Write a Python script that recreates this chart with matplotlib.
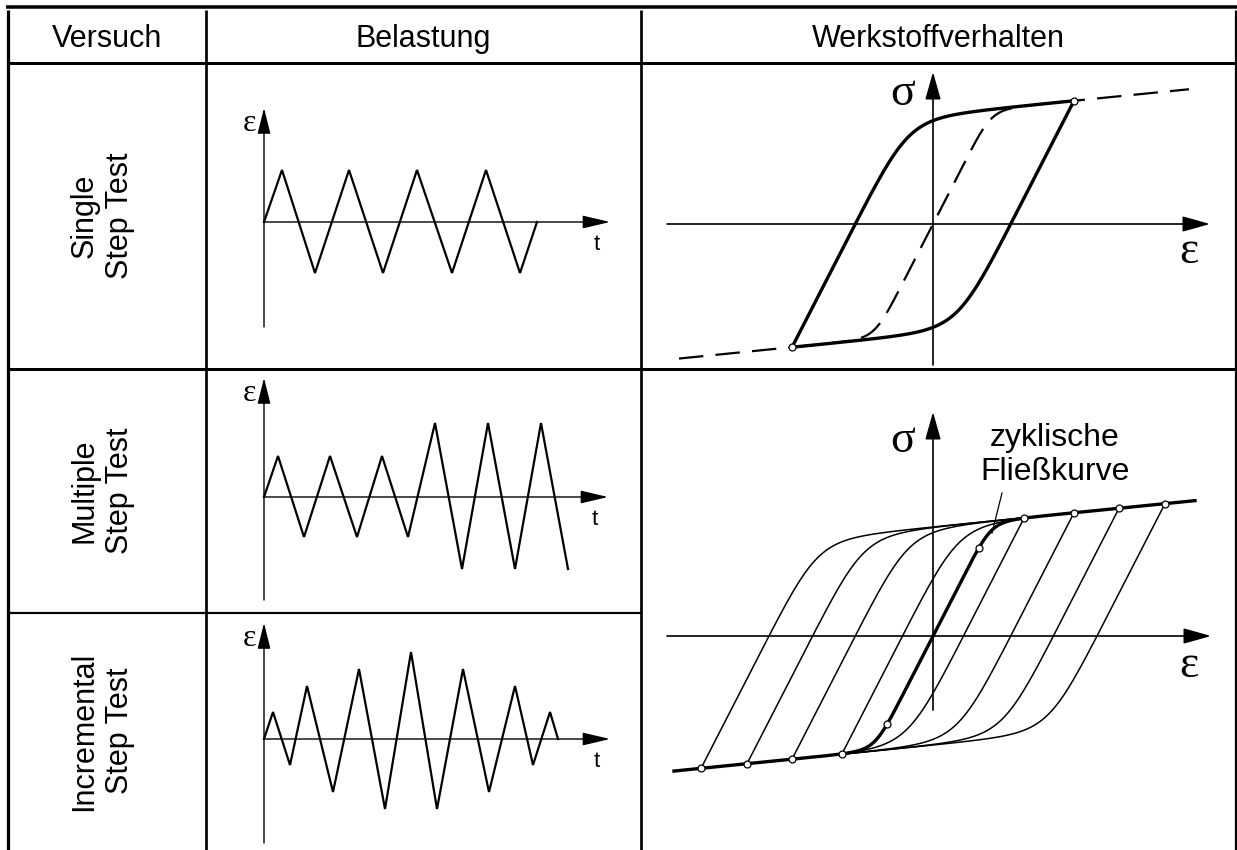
import matplotlib

matplotlib.use("Agg")
import matplotlib.pyplot as plt
import numpy as np

W, H, DPI = 1237, 850, 100
PT = 72.0 / DPI  # points per pixel

SANS = "Liberation Sans"
SERIF = "Liberation Serif"

# --- table layout (pixels) ---
COL_EDGES = [7.5, 206, 641, 1235.5]
TOP_Y = 6.5
HEADER_Y = 63
ROW1_Y = 369
ROW2_Y = 613
HEADERS = ["Versuch", "Belastung", "Werkstoffverhalten"]
ROW_LABELS = ["Single\nStep Test", "Multiple\nStep Test", "Incremental\nStep Test"]
ROW_LABEL_Y = [216, 491, 731]

# --- strain-time histories (t and eps in arbitrary units) ---
single_t = [0, 1.8, 5.1, 8.5, 11.9, 15.3, 18.8, 22.2, 25.6, 27.3]
single_eps = [0, 5.2, -5.1, 5.2, -5.1, 5.2, -5.1, 5.2, -5.1, 0]

multiple_t = [0, 1.4, 4.0, 6.6, 9.3, 11.8, 14.4, 17.1, 19.8, 22.4, 25.1, 27.7, 30.4]
multiple_eps = [0, 4.1, -4.0, 4.1, -4.0, 4.1, -4.0, 7.4, -7.2, 7.4, -7.2, 7.4, -7.2]

incremental_t = [0, 0.9, 2.6, 4.3, 6.9, 9.5, 12.1, 14.7, 17.3, 19.9, 22.5, 25.1, 26.9, 28.6, 29.4]
incremental_eps = [0, 2.7, -2.6, 5.3, -5.3, 7.0, -7.0, 8.7, -7.0, 7.0, -5.3, 5.3, -2.6, 2.7, 0]

# origin pixel and axis extents (t_end, eps_min, eps_max) of each loading sketch
load_origins = [(264, 222), (264, 497), (264, 739)]
load_extents = [(34.6, -10.5, 11.4), (34.4, -10.3, 11.9), (34.6, -10.4, 11.6)]

# --- cyclic stress-strain behaviour (eps, sigma in arbitrary units) ---
ELASTIC = 1.95       # slope of the elastic part
HARDENING = 0.10     # slope after yielding
KNEE_STRAIN = 59.0
KNEE_SHARPNESS = 8.0

single_amp = 141                       # amplitude of the single step loop
single_dashed_range = (-254, 256)      # cyclic curve drawn dashed
step_amps = [91, 141, 186, 232]        # loops of the multiple/incremental test
curve_points = [46, 91, 141, 186, 232] # marked points on the cyclic curve
bold_range = (-259, 262)

behaviour_origins = [(933, 224), (933, 636)]
behaviour_extents = [(-266, 277, -141, 152), (-266, 278, -74, 224)]


def cyclic_stress(eps):
    x = np.asarray(eps, dtype=float) / KNEE_STRAIN
    knee = x / (1.0 + np.abs(x) ** KNEE_SHARPNESS) ** (1.0 / KNEE_SHARPNESS)
    return HARDENING * x * KNEE_STRAIN + (ELASTIC - HARDENING) * KNEE_STRAIN * knee


def hysteresis_loop(amp, n=300):
    """Closed Masing loop between +amp and -amp."""
    sig = cyclic_stress(amp)
    e_up = np.linspace(-amp, amp, n)
    s_up = -sig + 2 * cyclic_stress((e_up + amp) / 2)
    e_dn = e_up[::-1]
    s_dn = sig - 2 * cyclic_stress((amp - e_dn) / 2)
    return np.concatenate([e_up, e_dn]), np.concatenate([s_up, s_dn])


def place_axes(fig, origin, scale, xlim, ylim):
    ox, oy = origin
    sx, sy = scale
    left = ox + xlim[0] * sx
    right = ox + xlim[1] * sx
    top = oy - ylim[1] * sy
    bottom = oy - ylim[0] * sy
    ax = fig.add_axes([left / W, 1 - bottom / H, (right - left) / W, (bottom - top) / H])
    ax.set_xlim(*xlim)
    ax.set_ylim(*ylim)
    ax.set_axis_off()
    return ax


def axis_arrow(ax, start, end, lw, head_length, head_width):
    style = f"-|>,head_length={head_length},head_width={head_width}"
    ax.annotate("", xy=end, xytext=start, annotation_clip=False,
                arrowprops=dict(arrowstyle=style, lw=lw, color="black",
                                shrinkA=0, shrinkB=0, mutation_scale=20))


def label(ax, text, at, offset, size, family):
    ax.annotate(text, xy=at, xytext=offset, textcoords="offset pixels",
                ha="center", va="baseline", fontsize=size, family=family,
                annotation_clip=False)


fig = plt.figure(figsize=(W / DPI, H / DPI), dpi=DPI)

# --- table grid ---
grid = fig.add_axes([0, 0, 1, 1])
grid.set_xlim(0, W)
grid.set_ylim(H, 0)
grid.set_axis_off()
grid.plot([6, W], [TOP_Y, TOP_Y], color="black", lw=3.5 * PT, solid_capstyle="butt")
for x in (COL_EDGES[0], COL_EDGES[-1]):
    grid.plot([x, x], [10, H], color="black", lw=3.2 * PT, solid_capstyle="butt")
for x in COL_EDGES[1:-1]:
    grid.plot([x, x], [10, H], color="black", lw=2.7 * PT, solid_capstyle="butt")
for y in (HEADER_Y, ROW1_Y):
    grid.plot([COL_EDGES[0], COL_EDGES[-1]], [y, y], color="black", lw=3.0 * PT,
              solid_capstyle="butt")
grid.plot([COL_EDGES[0], COL_EDGES[2]], [ROW2_Y, ROW2_Y], color="black", lw=2.2 * PT,
          solid_capstyle="butt")

for i, head in enumerate(HEADERS):
    xc = (COL_EDGES[i] + COL_EDGES[i + 1]) / 2
    grid.text(xc, 47, head, ha="center", va="baseline", fontsize=22, family=SANS)

for text, yc in zip(ROW_LABELS, ROW_LABEL_Y):
    grid.text(102, yc, text, ha="center", va="center", rotation=90, fontsize=22,
              family=SANS, multialignment="center", linespacing=1.22)

# --- loading sketches (strain over time) ---
histories = [(single_t, single_eps), (multiple_t, multiple_eps),
             (incremental_t, incremental_eps)]
for (t, eps), origin, (t_end, e_min, e_max) in zip(histories, load_origins, load_extents):
    ax = place_axes(fig, origin, (10, 10), (0, t_end), (e_min, e_max))
    axis_arrow(ax, (0, e_min), (0, e_max), 1.0, 0.8, 0.2)
    axis_arrow(ax, (0, 0), (t_end, 0), 1.0, 0.85, 0.2)
    ax.plot(t, eps, color="black", lw=1.6, clip_on=False, solid_joinstyle="miter")
    label(ax, "ε", (0, e_max), (-14, -23), 23, SERIF)
    label(ax, "t", (t_end, 0), (-13, -28), 16, SANS)

# --- material behaviour: single step test ---
e0, e1, s0, s1 = behaviour_extents[0]
ax = place_axes(fig, behaviour_origins[0], (1, 1), (e0, e1), (s0, s1))
axis_arrow(ax, (0, s0), (0, s1), 1.2, 0.85, 0.24)
axis_arrow(ax, (e0, 0), (e1, 0), 1.2, 0.85, 0.24)
e_cyc = np.linspace(*single_dashed_range, 400)
ax.plot(e_cyc, cyclic_stress(e_cyc), color="black", lw=1.6, dashes=(11, 5.5),
        clip_on=False, zorder=2)
le, ls = hysteresis_loop(single_amp)
ax.plot(le, ls, color="black", lw=2.4, clip_on=False, zorder=3)
tip = cyclic_stress(single_amp)
ax.plot([single_amp, -single_amp], [tip, -tip], "o", ms=5, mfc="white", mec="black",
        mew=0.9, clip_on=False, zorder=4)
label(ax, "σ", (0, s1), (-30, -33), 33, SERIF)
label(ax, "ε", (e1, 0), (-21, -39), 33, SERIF)

# --- material behaviour: multiple / incremental step test ---
e0, e1, s0, s1 = behaviour_extents[1]
ax = place_axes(fig, behaviour_origins[1], (1, 1), (e0, e1), (s0, s1))
axis_arrow(ax, (0, s0), (0, s1), 1.2, 0.85, 0.24)
axis_arrow(ax, (e0, 0), (e1, 0), 1.2, 0.85, 0.24)
for amp in step_amps:
    le, ls = hysteresis_loop(amp)
    ax.plot(le, ls, color="black", lw=1.1, clip_on=False, zorder=2)
e_cyc = np.linspace(*bold_range, 400)
ax.plot(e_cyc, cyclic_stress(e_cyc), color="black", lw=2.4, clip_on=False, zorder=3)
pts = np.array(curve_points, dtype=float)
ax.plot(np.concatenate([pts, -pts]), np.concatenate([cyclic_stress(pts), -cyclic_stress(pts)]),
        "o", ms=5, mfc="white", mec="black", mew=0.9, clip_on=False, zorder=4)
ax.plot([69, 59], [143, 103], color="black", lw=0.9, clip_on=False)
ax.text(122, 181, "zyklische\nFließkurve", ha="center", va="center", fontsize=23,
        family=SANS, linespacing=1.15)
label(ax, "σ", (0, s1), (-30, -40), 33, SERIF)
label(ax, "ε", (e1, 0), (-22, -41), 33, SERIF)

fig.savefig("out.png", dpi=DPI)
